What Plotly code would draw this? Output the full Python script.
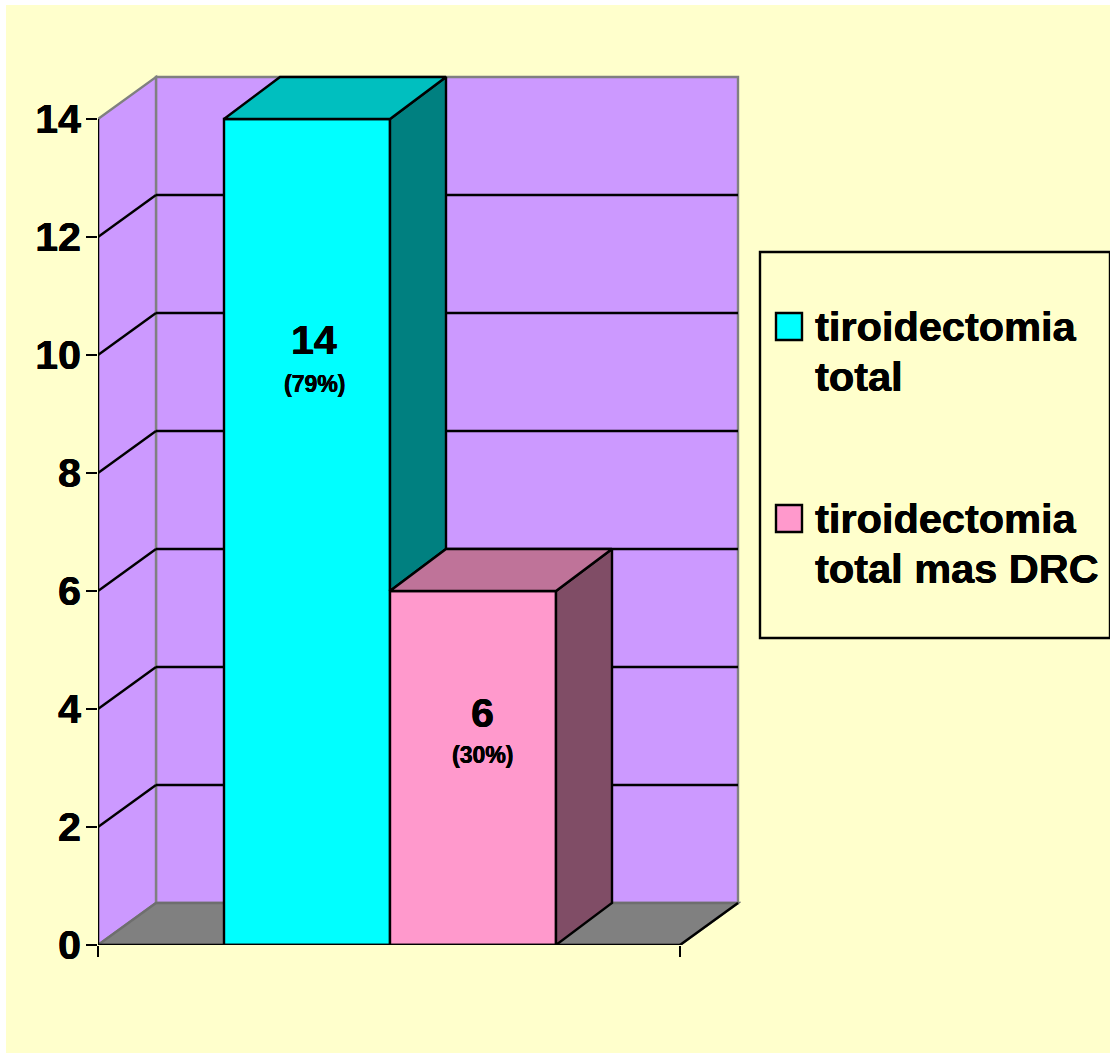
import plotly.graph_objects as go

# Series
series_names = ["tiroidectomia total", "tiroidectomia total mas DRC"]
series_values = [14, 6]
series_percents = ["(79%)", "(30%)"]
legend_lines = [["tiroidectomia", "total"], ["tiroidectomia", "total mas DRC"]]
y_ticks = [0, 2, 4, 6, 8, 10, 12, 14]

# Face colours: front, top, side
front_colors = ["#00FFFF", "#FF99CC"]
top_colors = ["#00BFBF", "#BF7399"]
side_colors = ["#008080", "#804D66"]
WALL = "#CC99FF"
FLOOR = "#808080"
CREAM = "#FFFFCC"
EDGE = "#808080"
FONT = "Liberation Sans"
HEAVY = "0.4px 0 0.3px black, -0.2px 0 0.3px black"

# Figure layout in pixels; the plot area keeps a small clearance so wall edges are not clipped
W, H = 1110, 1053
CLEAR = 3
LEFT, RIGHT, TOP, BOTTOM = 98, 738 + CLEAR, 77 - CLEAR, 945
PX_PER_BAR = 166.0
PX_PER_UNIT = 59.0
LINE = 2.4

# Oblique projection of the depth axis, in data units
wall_dx = 58 / PX_PER_BAR
bar_dx = 56 / PX_PER_BAR
depth_dy = 42 / PX_PER_UNIT
floor_w = 582 / PX_PER_BAR
bar_gap = 126 / PX_PER_BAR
y_top = max(y_ticks)


def px(x):
    return (x - LEFT) / (RIGHT - LEFT)


def py(y):
    return (BOTTOM - y) / (BOTTOM - TOP)


def path(points):
    return "M" + " L".join(f"{x},{y}" for x, y in points) + " Z"


fig = go.Figure()

# Back wall, side wall and floor of the 3D box
shapes = [
    dict(type="rect", xref="paper", yref="paper", x0=px(6), x1=px(1112), y0=py(5), y1=py(1056),
         fillcolor=CREAM, line_width=0, layer="below"),
    dict(type="path", path=path([(wall_dx, depth_dy), (wall_dx, y_top + depth_dy),
                                 (floor_w + wall_dx, y_top + depth_dy), (floor_w + wall_dx, depth_dy)]),
         fillcolor=WALL, line=dict(color=EDGE, width=LINE), layer="below"),
    dict(type="path", path=path([(0, 0), (0, y_top), (wall_dx, y_top + depth_dy), (wall_dx, depth_dy)]),
         fillcolor=WALL, line=dict(color=EDGE, width=LINE), layer="below"),
    dict(type="path", path=path([(0, 0), (floor_w, 0), (floor_w + wall_dx, depth_dy), (wall_dx, depth_dy)]),
         fillcolor=FLOOR, line=dict(color="#6E6E6E", width=LINE), layer="below"),
    dict(type="line", x0=floor_w, x1=floor_w + wall_dx, y0=0, y1=depth_dy,
         line=dict(color="black", width=LINE), layer="below"),
]

# Gridlines run along the side wall and across the back wall
for v in y_ticks[1:-1]:
    shapes.append(dict(type="line", x0=0, x1=wall_dx, y0=v, y1=v + depth_dy,
                       line=dict(color="black", width=LINE), layer="below"))
    shapes.append(dict(type="line", x0=wall_dx, x1=floor_w + wall_dx, y0=v + depth_dy, y1=v + depth_dy,
                       line=dict(color="black", width=LINE), layer="below"))

# Front faces
for i, (name, value) in enumerate(zip(series_names, series_values)):
    fig.add_trace(go.Bar(
        x=[bar_gap + i + 0.5], y=[value], width=1, name=name, showlegend=False,
        marker=dict(color=front_colors[i], line=dict(color="black", width=LINE)),
        cliponaxis=False, hoverinfo="skip",
    ))


def polygon(points, color):
    xs, ys = zip(*(points + points[:1]))
    fig.add_trace(go.Scatter(
        x=xs, y=ys, mode="lines", fill="toself", fillcolor=color,
        line=dict(color="black", width=LINE), showlegend=False,
        cliponaxis=False, hoverinfo="skip",
    ))


# Side and top faces; a side stops where the next bar's top hides it
for i, value in enumerate(series_values):
    x0 = bar_gap + i
    x1 = x0 + 1
    hidden_below = series_values[i + 1] if i + 1 < len(series_values) else 0
    polygon([(x1, hidden_below), (x1, value), (x1 + bar_dx, value + depth_dy),
             (x1 + bar_dx, hidden_below + depth_dy)], side_colors[i])
    polygon([(x0, value), (x1, value), (x1 + bar_dx, value + depth_dy),
             (x0 + bar_dx, value + depth_dy)], top_colors[i])

# Axis lines
for xs, ys in [([0, 0], [0, y_top]), ([0, floor_w], [0, 0])]:
    fig.add_trace(go.Scatter(x=xs, y=ys, mode="lines", line=dict(color="black", width=LINE),
                             showlegend=False, cliponaxis=False, hoverinfo="skip"))

# Value labels inside the bars
annotations = []
label_heights = [10.25, 3.93]
label_shift = [7, 9]
percent_drop = [44, 42]
for i, value in enumerate(series_values):
    cx = bar_gap + i + 0.5
    annotations.append(dict(x=cx, y=label_heights[i], xshift=label_shift[i], text=f"<b>{value}</b>", showarrow=False,
                            font=dict(family=FONT, size=41, color="black", shadow=HEAVY),
                            xanchor="center", yanchor="middle"))
    annotations.append(dict(x=cx, y=label_heights[i], xshift=label_shift[i], yshift=-percent_drop[i],
                            text=f"<b>{series_percents[i]}</b>",
                            showarrow=False, font=dict(family=FONT, size=23, color="black", shadow=HEAVY),
                            xanchor="center", yanchor="middle"))

# Legend box
shapes.append(dict(type="rect", xref="paper", yref="paper", x0=px(760), x1=px(1110), y0=py(252), y1=py(638),
                   fillcolor=CREAM, line=dict(color="black", width=LINE), layer="below"))
legend_rows = [326, 518]
swatch_rows = [326, 518]
for i, lines in enumerate(legend_lines):
    row = legend_rows[i]
    shapes.append(dict(type="rect", xref="paper", yref="paper", x0=px(776), x1=px(802),
                       y0=py(swatch_rows[i] - 13), y1=py(swatch_rows[i] + 14),
                       fillcolor=front_colors[i], line=dict(color="black", width=LINE), layer="above"))
    for j, line in enumerate(lines):
        annotations.append(dict(xref="paper", yref="paper", x=px(815.5), y=py(row + 50 * j), text=f"<b>{line}</b>",
                                showarrow=False, font=dict(family=FONT, size=41.5, color="black", shadow=HEAVY),
                                xanchor="left", yanchor="middle", xshift=-2, borderpad=0))

fig.update_layout(
    width=W, height=H, autosize=False,
    margin=dict(l=LEFT, r=W - RIGHT, t=TOP, b=H - BOTTOM, pad=0),
    paper_bgcolor="white", plot_bgcolor="rgba(0,0,0,0)",
    barmode="overlay", shapes=shapes, annotations=annotations, showlegend=False,
    xaxis=dict(range=[0, floor_w + wall_dx + CLEAR / PX_PER_BAR], tickmode="array", tickvals=[0, floor_w],
               showticklabels=False, ticks="outside", ticklen=11, tickwidth=LINE, tickcolor="black",
               showgrid=False, zeroline=False, showline=False, fixedrange=True),
    yaxis=dict(range=[0, y_top + depth_dy + CLEAR / PX_PER_UNIT], tickmode="array", tickvals=y_ticks,
               ticks="outside", ticklen=11, tickwidth=LINE, tickcolor="black",
               ticklabelstandoff=-3,
               tickfont=dict(family=FONT, size=41, color="black", weight="bold", shadow=HEAVY),
               showgrid=False, zeroline=False, showline=False, fixedrange=True),
)

fig.write_html("out.html")
